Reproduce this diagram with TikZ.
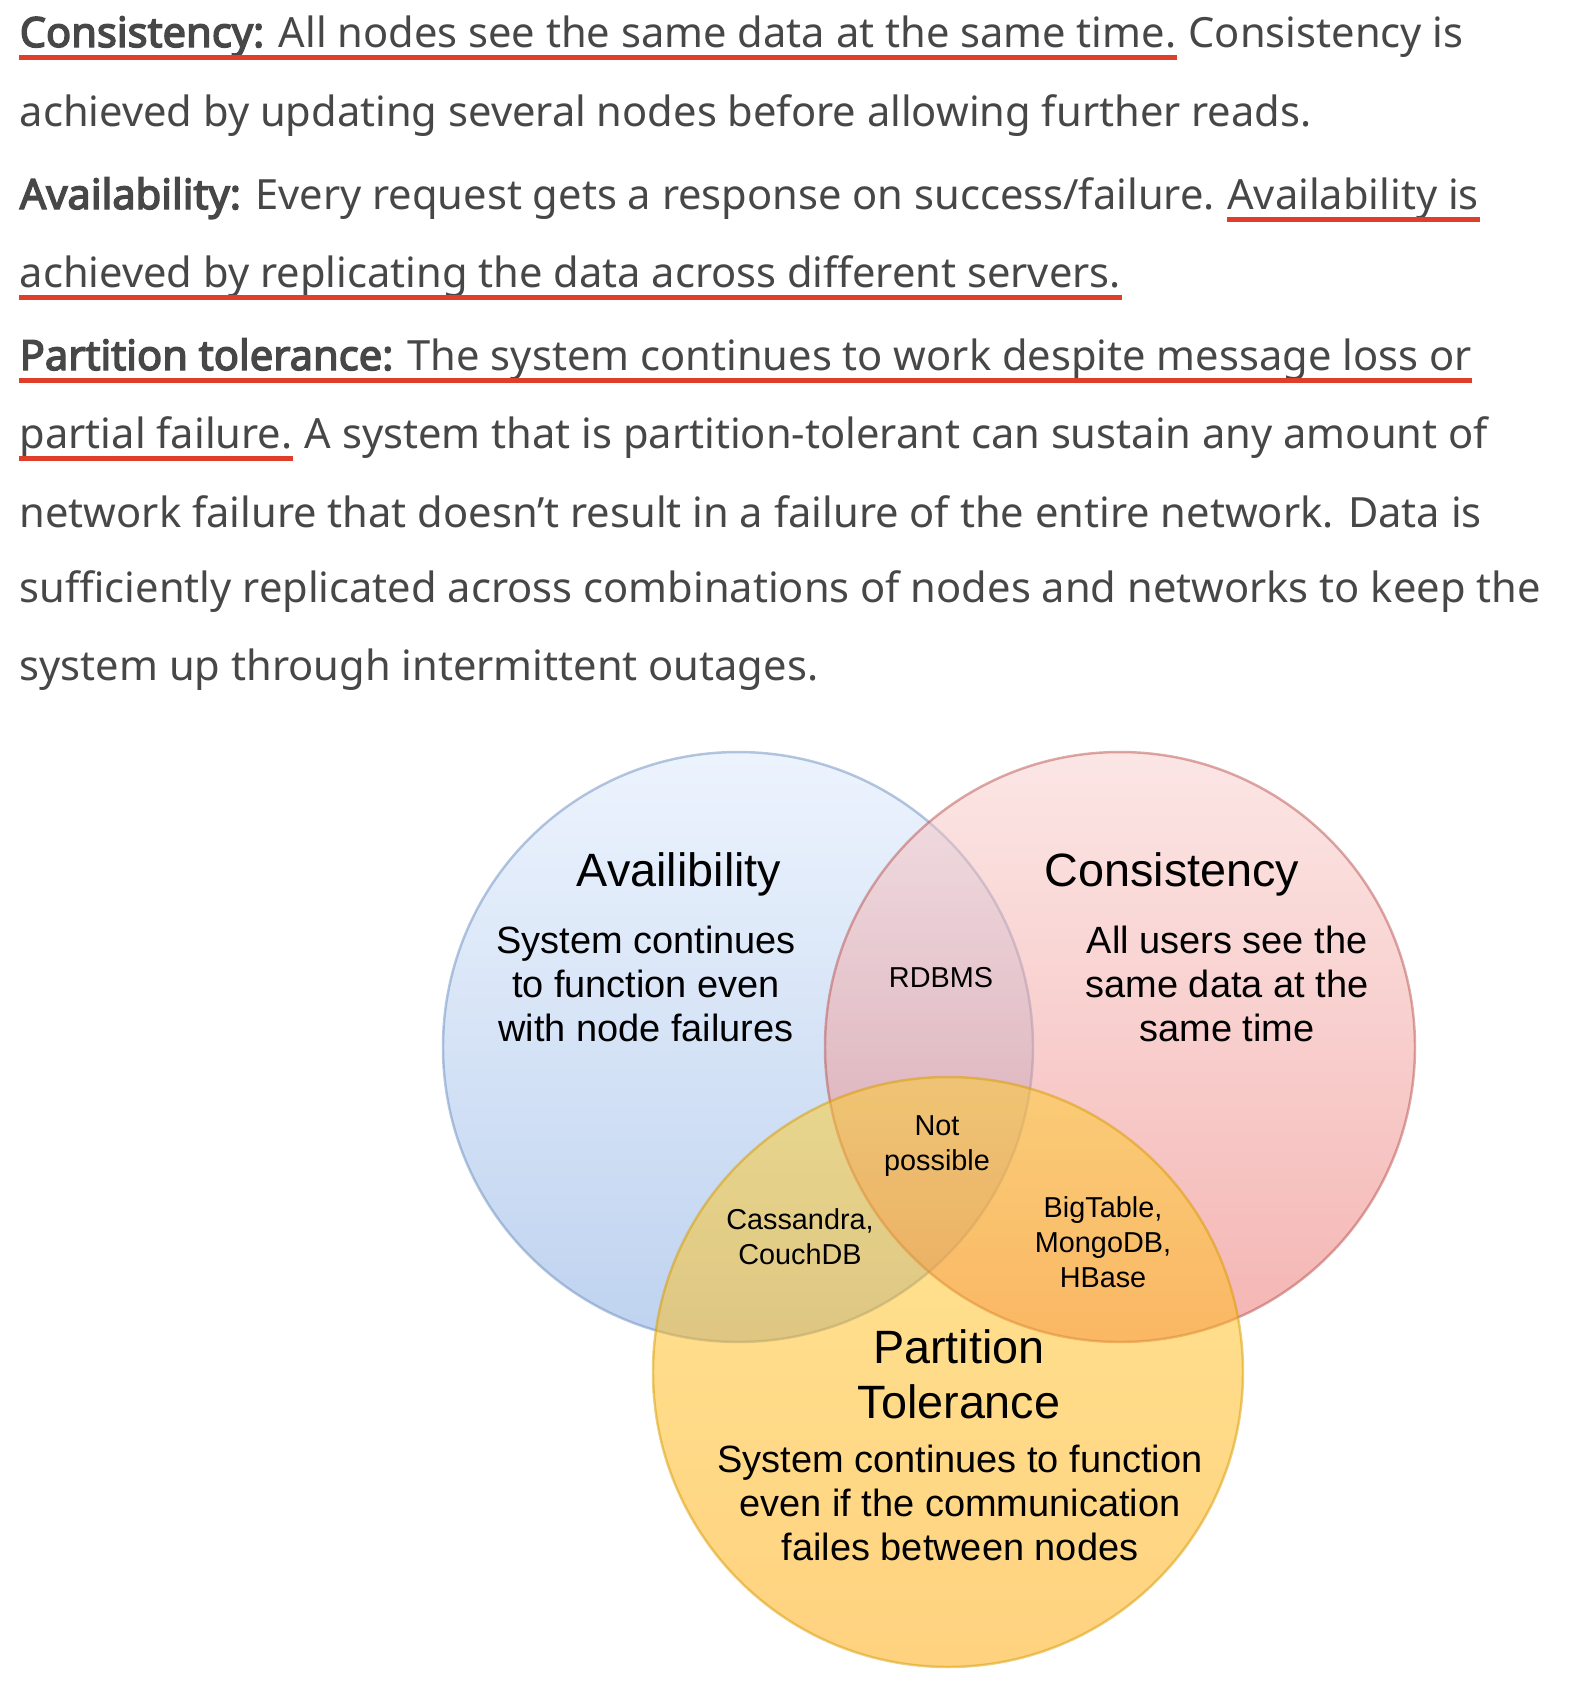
\documentclass[tikz,border=0pt]{standalone}
\usepackage{fontspec}
\setmainfont{Noto Sans}
\newfontfamily\headfont{Noto Sans}[FakeBold=3.5]
\newfontfamily\diagfont{Liberation Sans}
\usetikzlibrary{positioning}
\definecolor{text_grey}{HTML}{474747}
\definecolor{mark_red}{HTML}{DE3E2A}
\definecolor{avail_top}{HTML}{DAE8FC}
\definecolor{avail_bottom}{HTML}{7EA6E0}
\definecolor{avail_line}{HTML}{6C8EBF}
\definecolor{cons_top}{HTML}{F8CECC}
\definecolor{cons_bottom}{HTML}{EA6B66}
\definecolor{cons_line}{HTML}{B85450}
\definecolor{part_top}{HTML}{FFCD28}
\definecolor{part_bottom}{HTML}{FFA500}
\definecolor{part_line}{HTML}{D79B00}
\tikzset{
  body/.style={anchor=base west, inner sep=0pt, text=text_grey, font=\fontsize{11.85}{13}\selectfont},
  redline/.style={mark_red, line width=1.3pt},
  venn/.style={circle, minimum size=5.9cm, inner sep=0pt, line width=0.7pt, opacity=0.5},
  title/.style={anchor=base, inner sep=0pt, align=center, font=\diagfont\fontsize{13.3}{15.6}\selectfont},
  desc/.style={anchor=base, inner sep=0pt, align=center, font=\diagfont\fontsize{10.8}{12.4}\selectfont},
  dbname/.style={anchor=base, inner sep=0pt, align=center, font=\diagfont\fontsize{8.2}{9.9}\selectfont}
}

\begin{document}
\begin{tikzpicture}
\useasboundingbox (0,0) rectangle (15.82,-16.82);

% Text above the diagram
\node[body] (cons1) at (0.19,-0.47) {{\headfont Consistency:} All nodes see the same data at the same time.};
\node[right=3.1pt of cons1.base east, body] (cons2) {Consistency is};
\node[body] (cons3) at (0.19,-1.26) {achieved by updating several nodes before allowing further reads.};
\node[body] (avail1) at (0.19,-2.09) {{\headfont Availability:} Every request gets a response on success/failure.};
\node[right=3.1pt of avail1.base east, body] (avail2) {Availability is};
\node[body] (avail3) at (0.19,-2.87) {achieved by replicating the data across different servers.};
\node[body] (part1) at (0.19,-3.70) {{\headfont Partition tolerance:} The system continues to work despite message loss or};
\node[body] (part2) at (0.19,-4.48) {partial failure.};
\node[right=3.1pt of part2.base east, body] (part3) {A system that is partition-tolerant can sustain any amount of};
\node[body] (part4) at (0.19,-5.27) {network failure that doesn’t result in a failure of the entire network. Data is};
\node[body] (part5) at (0.19,-6.02) {sufficiently replicated across combinations of nodes and networks to keep the};
\node[body] (part6) at (0.19,-6.80) {system up through intermittent outages.};

% Red underlines
\draw[redline] ([yshift=-3pt]cons1.base west) -- ([yshift=-3pt]cons1.base east);
\draw[redline] ([yshift=-3pt]avail2.base west) -- ([yshift=-3pt]avail2.base east);
\draw[redline] ([yshift=-3pt]avail3.base west) -- ([yshift=-3pt]avail3.base east);
\draw[redline] ([yshift=-3pt]part1.base west) -- ([yshift=-3pt]part1.base east);
\draw[redline] ([yshift=-3pt]part2.base west) -- ([yshift=-3pt]part2.base east);

% The three circles
\node[venn, draw=avail_line, top color=avail_top, bottom color=avail_bottom] (availset) at (7.38,-10.47) {};
\node[venn, draw=cons_line, top color=cons_top, bottom color=cons_bottom] (consset) at (11.20,-10.47) {};
\node[venn, draw=part_line, top color=part_top, bottom color=part_bottom] (partset) at (9.48,-13.72) {};

% Labels inside the circles (base = last line)
\node[title] (availtitle) at (6.79,-8.86) {Availibility};
\node[title] (constitle) at (11.72,-8.86) {Consistency};
\node[desc] (availtext) at (6.46,-10.41) {System continues\\to function even\\with node failures};
\node[desc] (constext) at (12.27,-10.41) {All users see the\\same data at the\\same time};
\node[dbname] (rdbms) at (9.41,-9.87) {RDBMS};
\node[dbname] (none) at (9.37,-11.70) {Not\\possible};
\node[dbname] (ap) at (8.00,-12.64) {Cassandra,\\CouchDB};
\node[dbname] (cp) at (11.03,-12.87) {BigTable,\\MongoDB,\\HBase};
\node[title] (parttitle) at (9.59,-14.18) {Partition\\Tolerance};
\node[desc] (parttext) at (9.60,-15.60) {System continues to function\\even if the communication\\failes between nodes};

\end{tikzpicture}
\end{document}
